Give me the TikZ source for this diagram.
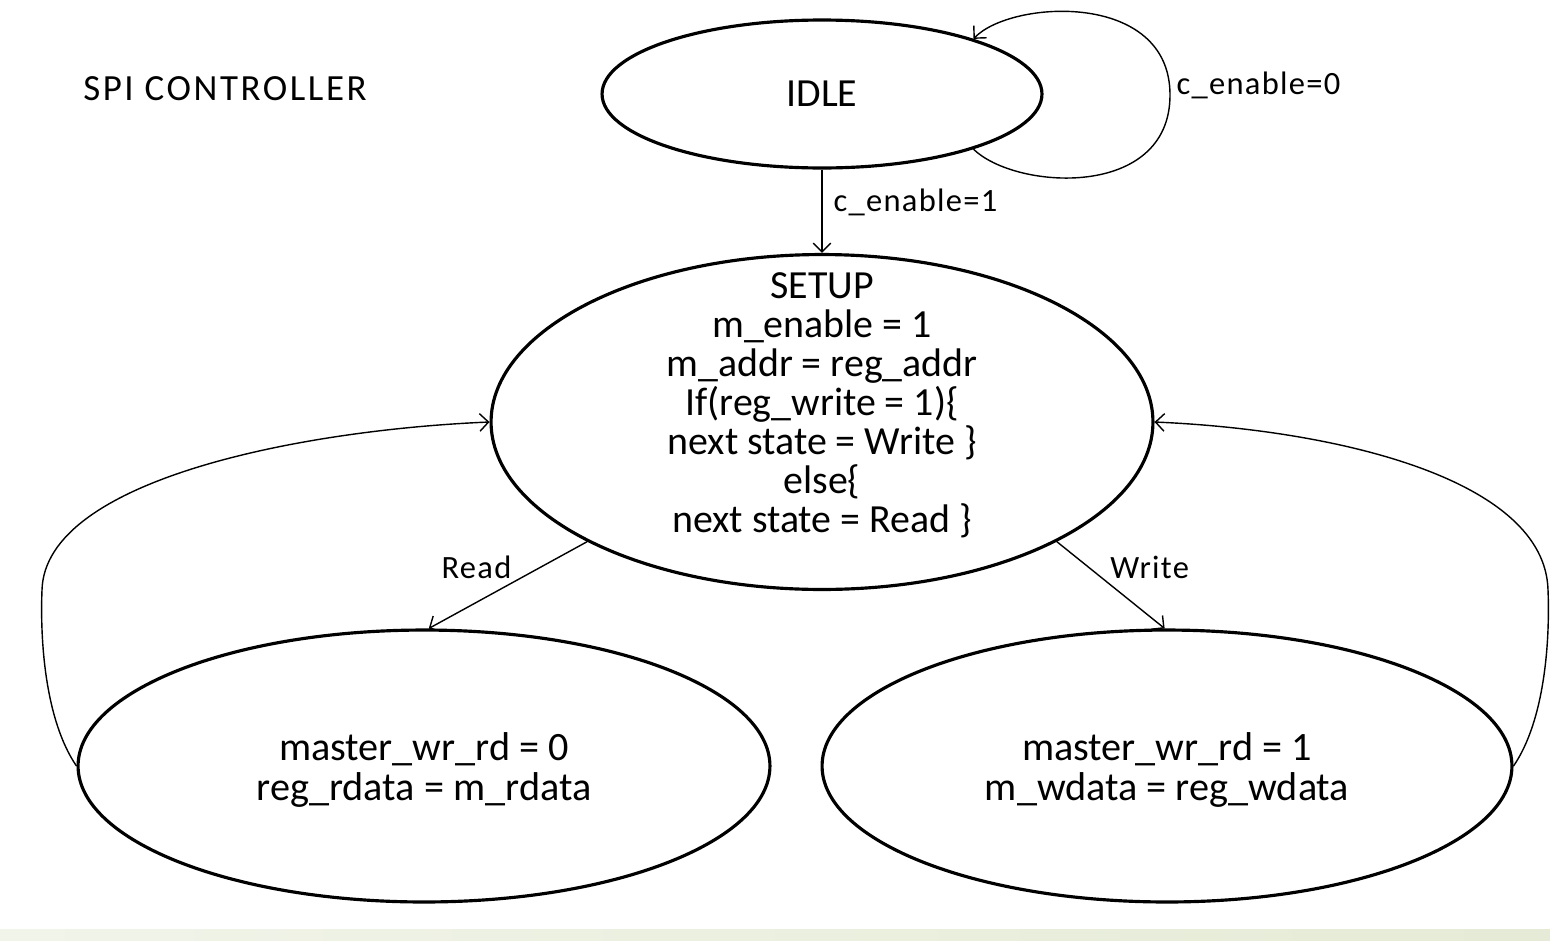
\documentclass[tikz,border=0pt]{standalone}
\usepackage{fontspec}
\setmainfont{Carlito}
\usetikzlibrary{arrows.meta,shapes.geometric}

\definecolor{stripL}{RGB}{241,244,233}
\definecolor{stripR}{RGB}{229,235,214}

\tikzset{
  fsm/.style={draw, ellipse, line width=1.8pt, inner sep=0pt},
  txt/.style={align=center, font=\fontsize{22.7}{22.2}\selectfont},
  lbl/.style={font=\fontsize{18.5}{20}\selectfont\addfontfeature{LetterSpace=4}},
  tr/.style={-{Straight Barb[length=5pt,width=10pt]}, line width=0.8pt},
}

\begin{document}
\begin{tikzpicture}[x=0.02cm,y=-0.02cm]
  \useasboundingbox (0,0) rectangle (1550,940);

  % 底部色带
  \shade[left color=stripL, right color=stripR] (0,929) rectangle (1550,940);

  % 标题
  \node[anchor=west, inner sep=0pt, font=\fontsize{21}{24}\selectfont\addfontfeature{LetterSpace=7}] (title) at (83,89) {SPI CONTROLLER};

  % 状态
  \node[fsm, minimum width=8.8cm, minimum height=2.96cm] (idle) at (822,94) {};
  \node[fsm, minimum width=13.24cm, minimum height=6.7cm] (setup) at (822,422) {};
  \node[fsm, minimum width=13.84cm, minimum height=5.44cm] (rd) at (424,766) {};
  \node[fsm, minimum width=13.8cm, minimum height=5.44cm] (wr) at (1167,766) {};

  \node[txt] (idletxt) at (idle) {IDLE};
  \node[txt] (setuptxt) at (822,405) {SETUP\\m\_enable = 1\\m\_addr = reg\_addr\\If(reg\_write = 1)\{\\next state = Write \}\\else\{\\next state = Read \}};
  \node[txt, font=\fontsize{22.9}{22.7}\selectfont] (rdtxt) at (424,770) {master\_wr\_rd = 0\\reg\_rdata = m\_rdata};
  \node[txt, font=\fontsize{22.9}{22.7}\selectfont] (wrtxt) at (1167,770) {master\_wr\_rd = 1\\m\_wdata = reg\_wdata};

  % 转移
  \draw[tr] (idle.-20) .. controls (1015,190) and (1170,200) .. (1170,95)
    node[lbl, right, yshift=0.2cm] {c\_enable=0}
    .. controls (1170,-10) and (1010,0) .. (idle.20);
  \draw[tr] (idle.south) -- (setup.north)
    node[lbl, right, pos=0.39, xshift=0.1cm] {c\_enable=1};
  \draw[tr] (setup.-153) -- (rd.88)
    node[lbl, above left, midway, xshift=0.2cm] {Read};
  \draw[tr] (setup.-27) -- (wr.91)
    node[lbl, above right, midway, xshift=-0.14cm] {Write};

  % 回到 SETUP
  \draw[tr] (rd.west) .. controls (45,720) and (40,640) .. (42,590)
    .. controls (45,480) and (300,430) .. (setup.west);
  \draw[tr] (wr.east) .. controls (1545,720) and (1550,640) .. (1548,590)
    .. controls (1545,480) and (1340,430) .. (setup.east);
\end{tikzpicture}
\end{document}
